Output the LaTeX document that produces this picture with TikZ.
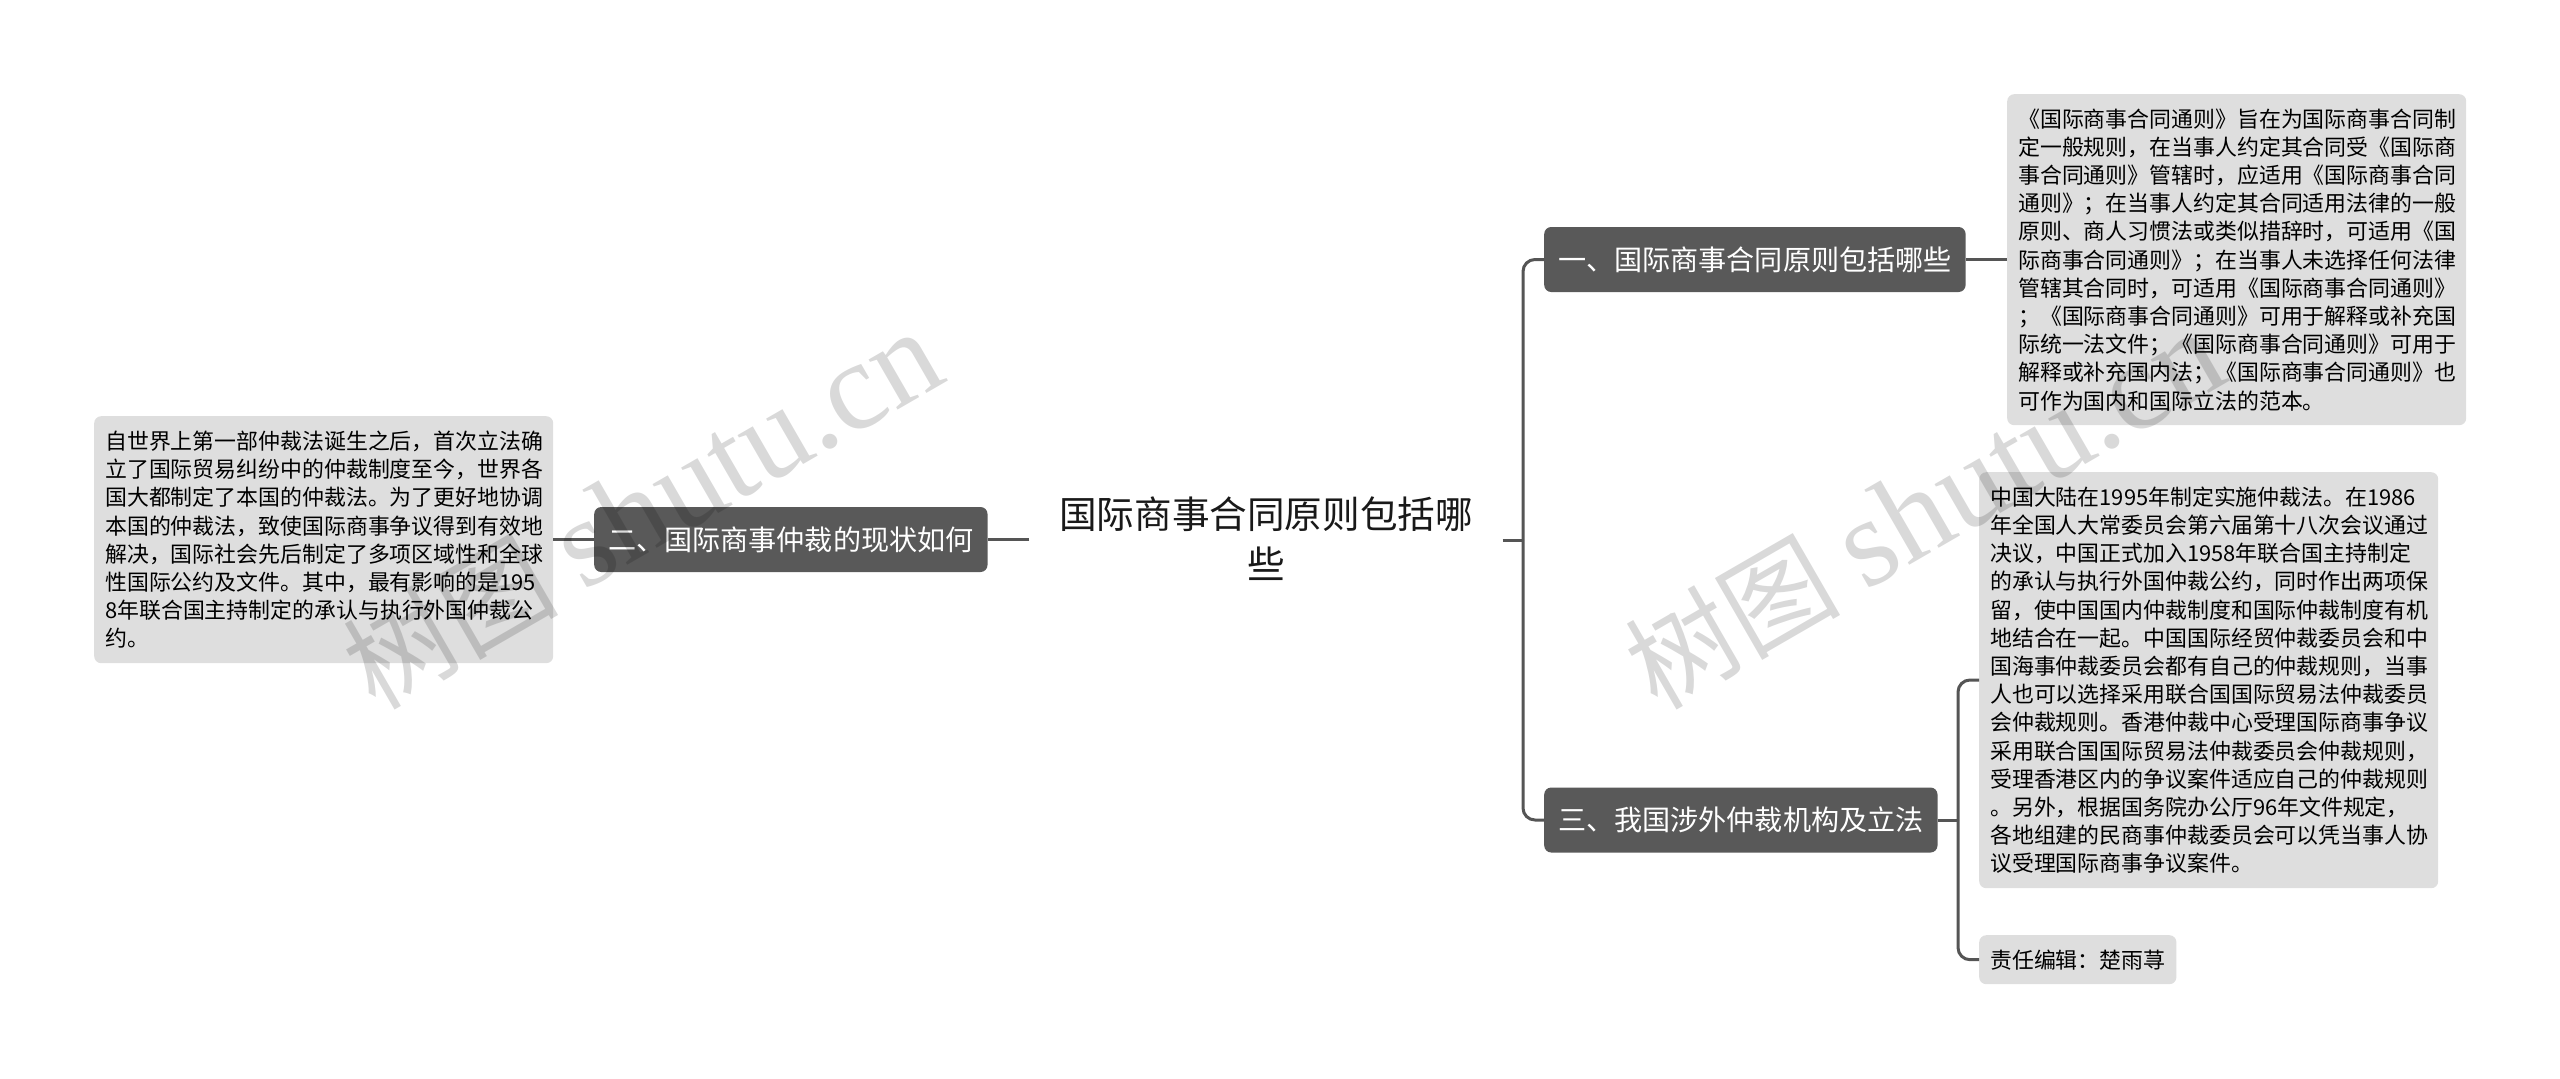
\documentclass[tikz,border=0pt]{standalone}
\usepackage{fontspec}
\setmainfont{Noto Sans CJK SC}
\newfontfamily\markfont{Liberation Serif}
\usepackage{tikz}
\usepackage{color}
\definecolor{topicgray}{HTML}{595959}
\definecolor{leafgray}{HTML}{DEDEDE}
\definecolor{linegray}{HTML}{555555}
\tikzset{
	rootbox/.style={align=center,font=\fontsize{37.6}{50}\selectfont,text=black!90,inner sep=0pt,minimum width=473,minimum height=110},
	topicbox/.style={anchor=west,fill=topicgray,text=white,rounded corners=7,font=\fontsize{28.1}{34}\selectfont,inner xsep=14,inner ysep=0,minimum height=65},
	leafbox/.style={anchor=north west,fill=leafgray,text=black,rounded corners=7,align=left,font=\fontsize{21.9}{28.2}\selectfont,inner xsep=11,inner ysep=0},
	branch/.style={draw=linegray,line width=3,rounded corners=12},
	markword/.style={text=black,opacity=.15,rotate=30,font=\fontsize{108}{108}\selectfont}
}
\begin{document}
\begin{tikzpicture}[x=1pt,y=-1pt]
	\useasboundingbox (0,0) rectangle (2560,1079);
	% root and the three topics
	\node[rootbox] (root) at (1266,539) {国际商事合同原则包括哪\\些};
	\node[topicbox] (one) at (1544,259.5) {一、国际商事合同原则包括哪些};
	\node[topicbox] (two) at (594,539.5) {二、国际商事仲裁的现状如何};
	\node[topicbox] (three) at (1544,820) {三、我国涉外仲裁机构及立法};
	% text leaves
	\node[leafbox,text width=437,minimum height=331] (oneleaf) at (2007,94) {《国际商事合同通则》旨在为国际商事合同制\\定一般规则，在当事人约定其合同受《国际商\\事合同通则》管辖时，应适用《国际商事合同\\通则》；在当事人约定其合同适用法律的一般\\原则、商人习惯法或类似措辞时，可适用《国\\际商事合同通则》；在当事人未选择任何法律\\管辖其合同时，可适用《国际商事合同通则》\\；《国际商事合同通则》可用于解释或补充国\\际统一法文件；《国际商事合同通则》可用于\\解释或补充国内法；《国际商事合同通则》也\\可作为国内和国际立法的范本。};
	\node[leafbox,text width=437,minimum height=247] (twoleaf) at (94,416) {自世界上第一部仲裁法诞生之后，首次立法确\\立了国际贸易纠纷中的仲裁制度至今，世界各\\国大都制定了本国的仲裁法。为了更好地协调\\本国的仲裁法，致使国际商事争议得到有效地\\解决，国际社会先后制定了多项区域性和全球\\性国际公约及文件。其中，最有影响的是195\\8年联合国主持制定的承认与执行外国仲裁公\\约。};
	\node[leafbox,text width=437,minimum height=416] (threeleaf) at (1979,472) {中国大陆在1995年制定实施仲裁法。在1986\\年全国人大常委员会第六届第十八次会议通过\\决议，中国正式加入1958年联合国主持制定\\的承认与执行外国仲裁公约，同时作出两项保\\留，使中国国内仲裁制度和国际仲裁制度有机\\地结合在一起。中国国际经贸仲裁委员会和中\\国海事仲裁委员会都有自己的仲裁规则，当事\\人也可以选择采用联合国国际贸易法仲裁委员\\会仲裁规则。香港仲裁中心受理国际商事争议\\采用联合国国际贸易法仲裁委员会仲裁规则，\\受理香港区内的争议案件适应自己的仲裁规则\\。另外，根据国务院办公厅96年文件规定，\\各地组建的民商事仲裁委员会可以凭当事人协\\议受理国际商事争议案件。};
	\node[leafbox,minimum height=49] (editor) at (1979,935) {责任编辑：楚雨荨};
	% forks where the branches meet
	\coordinate (rootfork) at (1523,540);
	\coordinate (threefork) at (1958,820);
	\coordinate (threetop) at (1979,680);
	% connectors
	\draw[branch] (root.east |- rootfork) -- (rootfork);
	\draw[branch] (one.west) -| (rootfork);
	\draw[branch] (three.west) -| (rootfork);
	\draw[branch] (root.west |- two.east) -- (two.east);
	\draw[branch] (two.west) -- (twoleaf.east |- two.west);
	\draw[branch] (one.east) -- (oneleaf.west |- one.east);
	\draw[branch] (three.east) -- (threefork);
	\draw[branch] (threetop) -| (threefork);
	\draw[branch] (editor.west) -| (threefork);
	% watermarks
	\node[markword] (markleft) at (642,510) {树图 {\markfont\fontsize{126}{126}\selectfont shutu.cn}};
	\node[markword] (markright) at (1924,510) {树图 {\markfont\fontsize{126}{126}\selectfont shutu.cn}};
\end{tikzpicture}
\end{document}
